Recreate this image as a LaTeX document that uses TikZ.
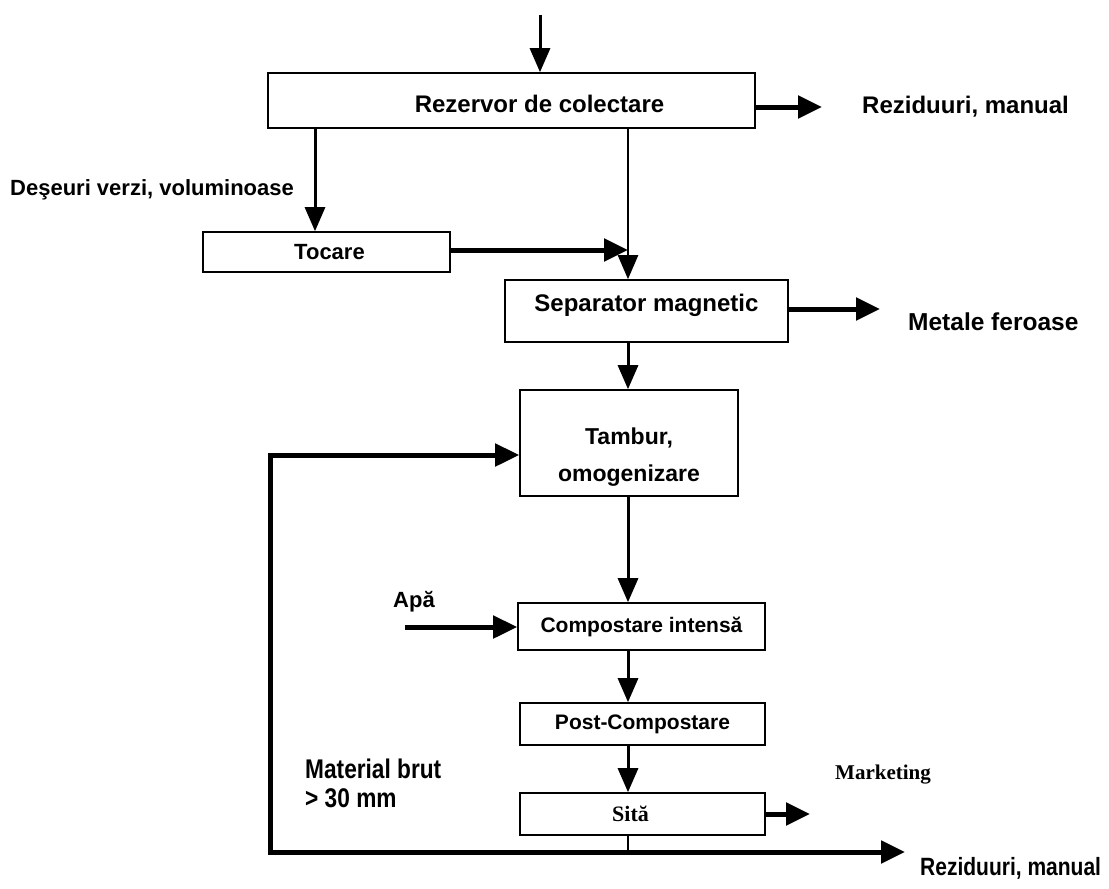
\documentclass[tikz,border=0pt]{standalone}
\usepackage{fontspec}
\setmainfont{Liberation Sans}
\newfontfamily\narrowfont[FakeStretch=0.84]{Liberation Sans}
\newfontfamily\serifbold{Liberation Serif}
\usetikzlibrary{arrows.meta}
\tikzset{
  box/.style={draw, line width=1.6pt, inner sep=0pt},
  boxtext/.style={font=\bfseries\fontsize{22}{37}\selectfont, align=center, inner sep=0pt},
  lbl/.style={font=\bfseries\fontsize{24}{28}\selectfont, inner sep=0pt, anchor=west},
  narrowlbl/.style={font=\narrowfont\bfseries\fontsize{27}{29}\selectfont, inner sep=0pt, anchor=west, align=left},
  arr/.style={line width=3pt, -{Triangle[length=24pt,width=20pt]}},
  thickarr/.style={line width=5pt, line cap=rect, -{Triangle[length=24pt,width=22pt]}},
}
\begin{document}
\begin{tikzpicture}[x=1pt,y=-1pt]
\useasboundingbox (0,0) rectangle (1109,889);
% boxes
\node[box, minimum width=487pt, minimum height=55pt,
  label={[boxtext, font=\bfseries\fontsize{24}{28}\selectfont, xshift=28pt, yshift=-3pt]center:Rezervor de colectare}] (rez) at (511.5,100.5) {};
\node[box, minimum width=247pt, minimum height=40pt,
  label={[boxtext, xshift=3pt]center:Tocare}] (toc) at (326.5,252) {};
\node[box, minimum width=283pt, minimum height=62pt,
  label={[boxtext, font=\bfseries\fontsize{24}{28}\selectfont, yshift=6pt]center:Separator magnetic}] (sep) at (646.5,311) {};
\node[box, minimum width=218pt, minimum height=106pt,
  label={[boxtext, font=\bfseries\fontsize{23}{37}\selectfont, yshift=-14pt]center:Tambur,\\omogenizare}] (tam) at (629,443) {};
\node[box, minimum width=247pt, minimum height=47pt,
  label={[boxtext, font=\bfseries\fontsize{21}{25}\selectfont]center:Compostare intensă}] (ci) at (641.5,626.5) {};
\node[box, minimum width=245pt, minimum height=42pt,
  label={[boxtext, font=\bfseries\fontsize{21}{25}\selectfont]center:Post-Compostare}] (pc) at (642.5,724) {};
\node[box, minimum width=245pt, minimum height=42pt,
  label={[boxtext, xshift=-12pt, font=\serifbold\bfseries\fontsize{22}{25}\selectfont]center:Sită}] (sita) at (642.5,814) {};
% coordinates
\coordinate (in) at (540,15);
\coordinate (xA) at (315,0);
\coordinate (sp) at (628,0);
\coordinate (r1) at (822,107);
\coordinate (r2) at (880,309);
\coordinate (r3) at (810,813);
\coordinate (apa) at (405,627);
\coordinate (bl) at (270,852);
\coordinate (br) at (905,852);
\coordinate (fb) at (270,455);
% labels
\node[lbl] (lrez) at (862,107) {Reziduuri, manual};
\node[lbl, font=\bfseries\fontsize{22}{26}\selectfont] (ldes) at (10,190) {Deşeuri verzi, voluminoase};
\node[lbl, font=\bfseries\fontsize{24.5}{28}\selectfont] (lmet) at (908,322) {Metale feroase};
\node[lbl, font=\bfseries\fontsize{22}{26}\selectfont] (lapa) at (393,602) {Apă};
\node[lbl, font=\serifbold\bfseries\fontsize{21}{25}\selectfont] (lmkt) at (835,775) {Marketing};
\node[narrowlbl] (lmat) at (305,783) {Material brut\\> 30 mm};
\node[narrowlbl, font=\narrowfont\bfseries\fontsize{25}{29}\selectfont] (lrez2) at (920,868) {Reziduuri, manual};
% connectors
\draw[arr] (in) -- (in |- rez.north);
\draw[thickarr, line cap=butt] ([yshift=-6.5pt]rez.east) -- (r1);
\draw[arr] (xA |- rez.south) -- (xA |- toc.north);
\draw[thickarr, line cap=butt] ([yshift=2pt]toc.east) -- ([yshift=2pt]sp |- toc.east);
\draw[arr, line width=2.5pt] (sp |- rez.south) -- (sp |- sep.north);
\draw[thickarr, line cap=butt] ([yshift=2pt]sep.east) -- (r2);
\draw[arr] (sp |- sep.south) -- (sp |- tam.north);
\draw[arr] (sp |- tam.south) -- (sp |- ci.north);
\draw[thickarr, line cap=butt] (apa) -- (apa -| ci.west);
\draw[arr] (sp |- ci.south) -- (sp |- pc.north);
\draw[arr] (sp |- pc.south) -- (sp |- sita.north);
\draw[thickarr, line cap=butt] (sita.east) -- (sita.east -| r3);
\draw[line width=2pt] (sp |- sita.south) -- (sp |- bl);
\draw[thickarr] (bl) -- (br);
\draw[thickarr, line join=miter] (bl) -- (fb) -- (fb -| tam.west);
\end{tikzpicture}
\end{document}
